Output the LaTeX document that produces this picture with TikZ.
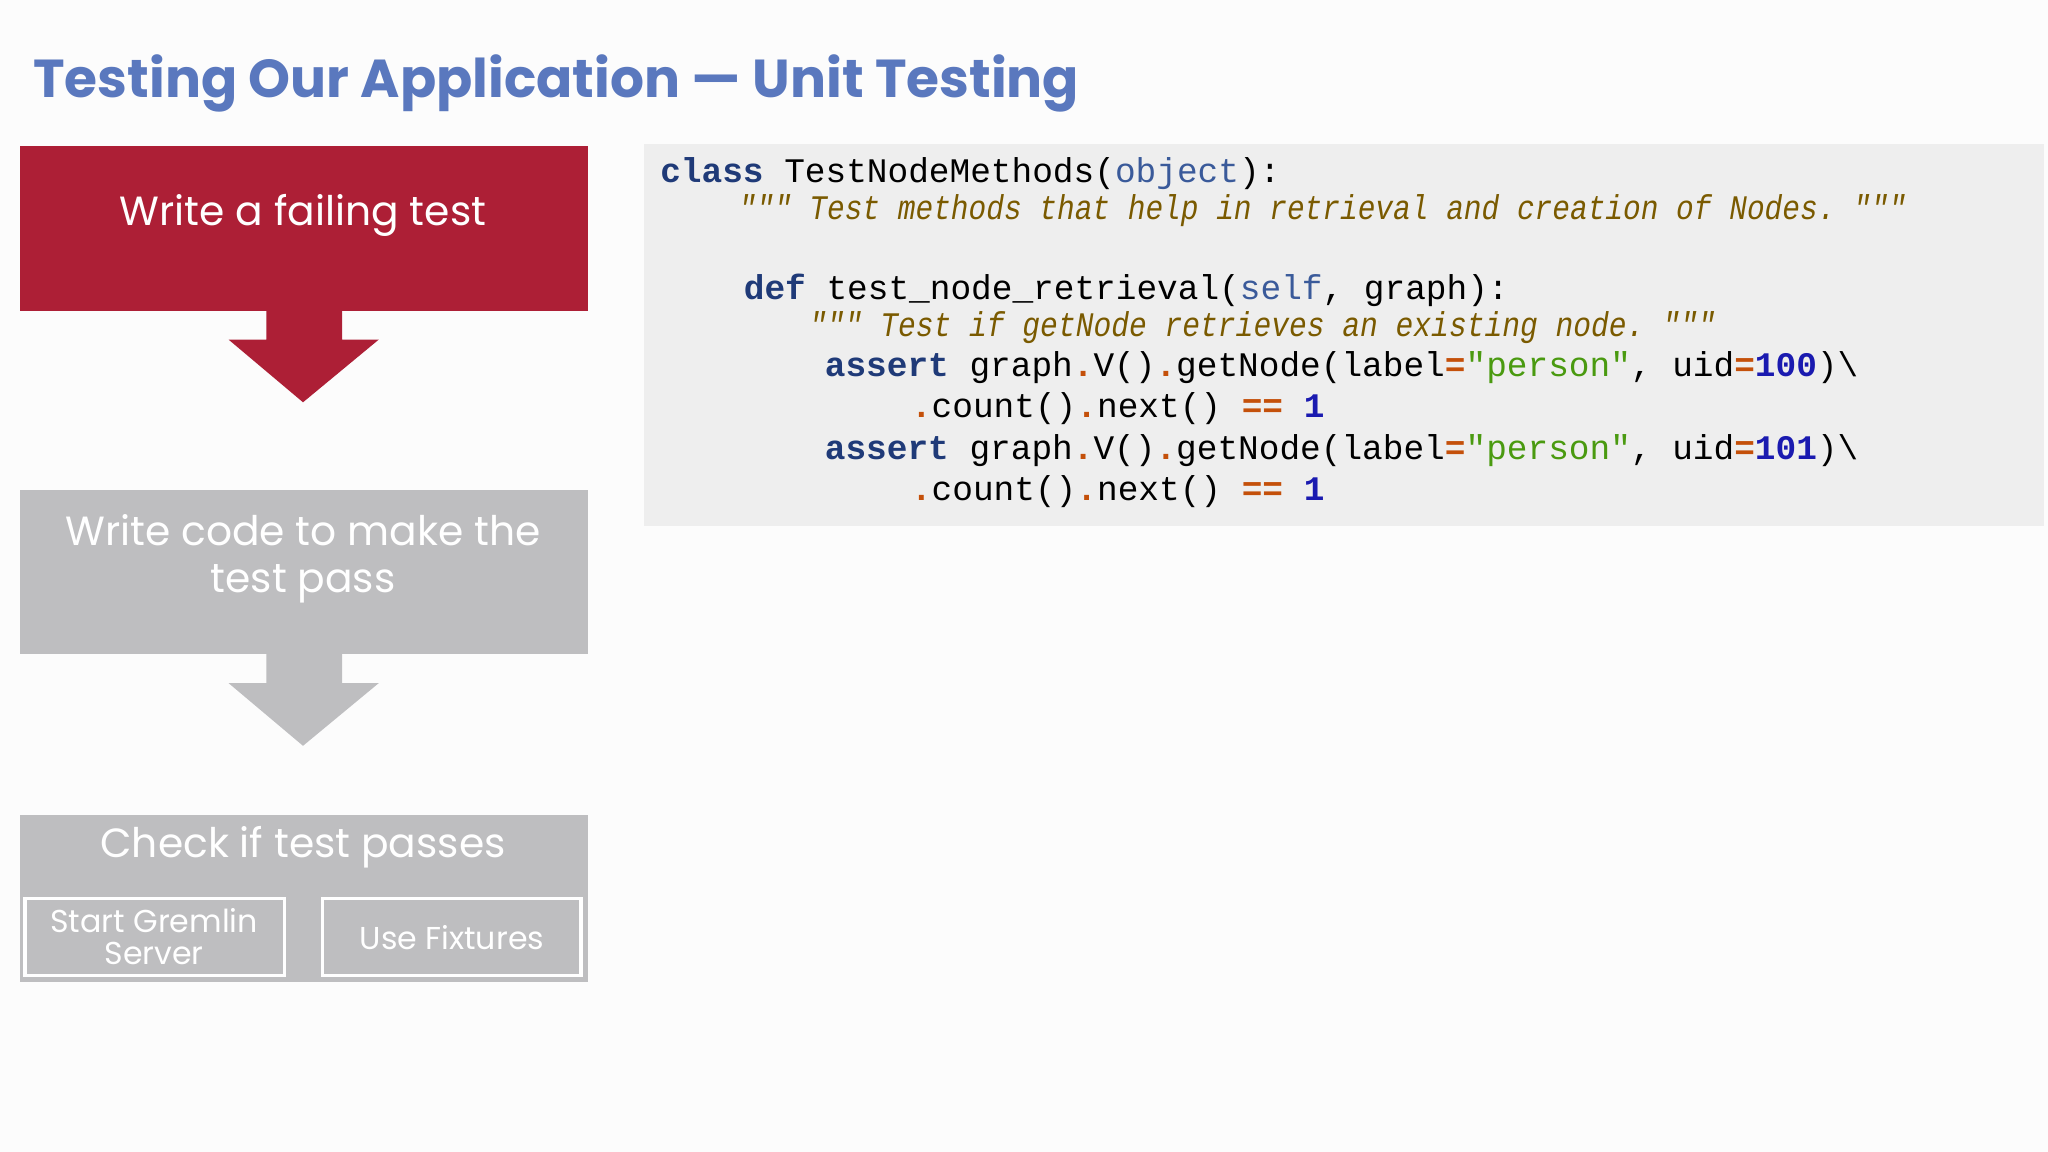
\documentclass[tikz,border=0pt]{standalone}
\usepackage{fontspec}
\setmainfont{Poppins}
\setmonofont{Liberation Mono}
\definecolor{ttl}{HTML}{5A78BE}
\definecolor{redb}{HTML}{AD1F36}
\definecolor{grayb}{HTML}{BEBEC0}
\definecolor{codebg}{HTML}{EEEEEE}
\definecolor{kw}{HTML}{1F3A78}
\definecolor{bi}{HTML}{3A5A9A}
\definecolor{cm}{HTML}{7A5A00}
\definecolor{st}{HTML}{4A9A10}
\definecolor{op}{HTML}{C4500A}
\definecolor{nm}{HTML}{1A1AB0}
\newcommand{\K}[1]{\textcolor{kw}{\bfseries #1}}
\newcommand{\B}[1]{\textcolor{bi}{#1}}
\newcommand{\C}[1]{\textcolor{cm}{\itshape #1}}
\newcommand{\Sg}[1]{\textcolor{st}{#1}}
\newcommand{\Op}[1]{\textcolor{op}{\bfseries #1}}
\newcommand{\N}[1]{\textcolor{nm}{\bfseries #1}}
\begin{document}
\begin{tikzpicture}[x=0.01306cm,y=-0.01306cm,
  boxtxt/.style={text=white,font=\fontsize{11.6}{13.5}\selectfont,align=center},
  code/.style={anchor=base west,inner sep=0,font=\ttfamily\fontsize{9.8}{10}\selectfont}]
\fill[white!98!gray] (0,0) rectangle (1568,882);
\useasboundingbox (0,0) rectangle (1568,882);
\node[anchor=base west,inner sep=0,text=ttl,font=\bfseries\fontsize{15.2}{16}\selectfont] (title) at (25,75) {Testing Our Application — Unit Testing};
% box 1
\fill[redb] (15,112) rectangle (450,238);
\node[boxtxt] (b1) at (232,165) {Write a failing test};
\fill[redb] (204,237) -- (262,237) -- (262,260) -- (290,260) -- (232,308) -- (175,260) -- (204,260) -- cycle;
% box 2
\fill[grayb] (15,375) rectangle (450,501);
\node[boxtxt] (b2) at (232,428) {Write code to make the\\test pass};
\fill[grayb] (204,500) -- (262,500) -- (262,523) -- (290,523) -- (232,571) -- (175,523) -- (204,523) -- cycle;
% box 3
\fill[grayb] (15,624) rectangle (450,752);
\node[boxtxt] (b3) at (232,649) {Check if test passes};
\draw[white,line width=1pt] (19,688) rectangle (218,747);
\node[boxtxt,font=\fontsize{9}{10}\selectfont] (s1) at (118,717) {Start Gremlin\\[-1pt]Server};
\draw[white,line width=1pt] (247,688) rectangle (445,747);
\node[boxtxt,font=\fontsize{9}{10}\selectfont] (s2) at (346,718) {Use Fixtures};
% code
\fill[codebg] (493,110) rectangle (1565,403);
\node[code] (l1) at (505,140) {\K{class} TestNodeMethods(\B{object}):};
\node[code] (l2) at (565,168) {\scalebox{0.856}[1]{\C{""" Test methods that help in retrieval and creation of Nodes. """}}};
\node[code] (l3) at (569,229) {\K{def} test\_node\_retrieval(\B{self}, graph):};
\node[code] (l4) at (619,258) {\scalebox{0.86}[1]{\C{""" Test if getNode retrieves an existing node. """}}};
\node[code] (l5) at (631,288) {\K{assert} graph\Op{.}V()\Op{.}getNode(label\Op{=}\Sg{"person"}, uid\Op{=}\N{100})\textbackslash};
\node[code] (l6) at (697,320) {\Op{.}count()\Op{.}next() \Op{==} \N{1}};
\node[code] (l7) at (631,352) {\K{assert} graph\Op{.}V()\Op{.}getNode(label\Op{=}\Sg{"person"}, uid\Op{=}\N{101})\textbackslash};
\node[code] (l8) at (697,383) {\Op{.}count()\Op{.}next() \Op{==} \N{1}};
\end{tikzpicture}
\end{document}
